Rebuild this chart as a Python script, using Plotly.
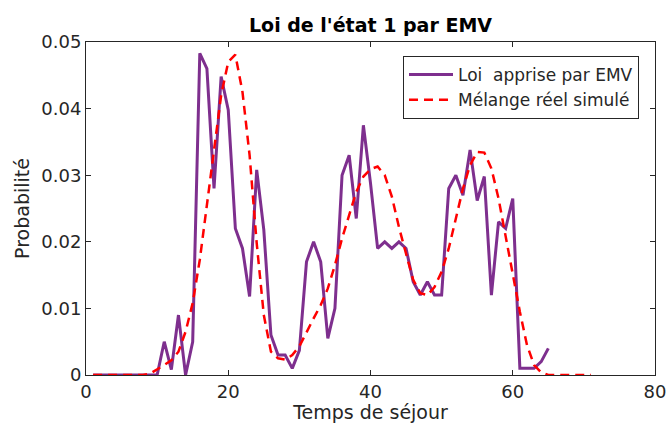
import plotly.graph_objects as go

# Data
x_emv = list(range(1, 66))
y_emv = [0, 0, 0, 0, 0, 0, 0, 0, 0, 0,          # 1-10
         0.005, 0.0008, 0.009, 0.0, 0.005,       # 11-15
         0.0483, 0.046, 0.028, 0.0448, 0.0398,   # 16-20
         0.022, 0.019, 0.0118, 0.0308, 0.0218,   # 21-25
         0.006, 0.003, 0.003, 0.001, 0.0037,     # 26-30
         0.017, 0.020, 0.017, 0.0055, 0.010,     # 31-35
         0.030, 0.033, 0.0235, 0.0375, 0.0288,   # 36-40
         0.019, 0.020, 0.019, 0.020, 0.019,      # 41-45
         0.014, 0.012, 0.014, 0.012, 0.012,      # 46-50
         0.028, 0.030, 0.027, 0.0338, 0.0262,    # 51-55
         0.0298, 0.012, 0.023, 0.022, 0.0265,    # 56-60
         0.001, 0.001, 0.001, 0.002, 0.004]      # 61-65

x_reel = list(range(1, 72))
y_reel = [0, 0, 0, 0, 0, 0, 0, 0, 0.0002, 0.0008,           # 1-10
          0.0015, 0.0022, 0.0035, 0.0065, 0.0108,            # 11-15
          0.0173, 0.0258, 0.034, 0.042, 0.047,               # 16-20
          0.0481, 0.0425, 0.033, 0.0198, 0.009,              # 21-25
          0.0035, 0.0025, 0.0023, 0.003, 0.0043,             # 26-30
          0.0065, 0.0085, 0.0105, 0.013, 0.0165,             # 31-35
          0.0205, 0.024, 0.0275, 0.0298, 0.0309,             # 36-40
          0.0313, 0.0300, 0.0268, 0.0222, 0.0182,            # 41-45
          0.0143, 0.0123, 0.012, 0.0132, 0.0155,             # 46-50
          0.019, 0.0235, 0.028, 0.0315, 0.0335,              # 51-55
          0.0334, 0.031, 0.0265, 0.0208, 0.015,              # 56-60
          0.0095, 0.0045, 0.0015, 0.0004, 0,                 # 61-65
          0, 0, 0, 0, 0, 0]                                  # 66-71

x_ticks = [0, 20, 40, 60, 80]
y_ticks = [0, 0.01, 0.02, 0.03, 0.04, 0.05]
y_ticktext = ["0", "0.01", "0.02", "0.03", "0.04", "0.05"]

axis_col = "#262626"
font_fam = "DejaVu Sans, sans-serif"

fig = go.Figure()
fig.add_trace(go.Scatter(x=x_emv, y=y_emv, mode="lines",
                         name="Loi\u00a0\u00a0apprise par EMV",
                         line=dict(color="#7E2F8E", width=3)))
fig.add_trace(go.Scatter(x=x_reel, y=y_reel, mode="lines",
                         name="Mélange réel simulé",
                         line=dict(color="#FF0000", width=2.5, dash="9px,6px")))

fig.update_layout(
    width=666, height=423,
    margin=dict(l=86, r=11, t=42, b=48, autoexpand=False),
    paper_bgcolor="white", plot_bgcolor="white",
    font=dict(family=font_fam, color=axis_col, size=18),
    title=dict(text="<b>Loi de l'état 1 par EMV</b>", x=370.5 / 666, xanchor="center",
               y=1 - 25.5 / 423, yanchor="middle", yref="container",
               font=dict(size=19, color="black", family=font_fam)),
    showlegend=True,
    legend=dict(x=(403 - 86) / 569, y=(375 - 56) / 333, xanchor="left", yanchor="top",
                bgcolor="white", bordercolor=axis_col, borderwidth=1,
                font=dict(size=17, color=axis_col, family=font_fam),
                tracegroupgap=0, itemwidth=44),
)

fig.update_xaxes(range=[0, 80], tickvals=x_ticks, ticks="inside", ticklen=5,
                 tickcolor=axis_col, showline=True, linecolor=axis_col, linewidth=1,
                 mirror="ticks", showgrid=False, zeroline=False, automargin=False,
                 ticklabeloverflow="allow",
                 tickfont=dict(size=18, color=axis_col),
                 title=dict(text="Temps de séjour", font=dict(size=19, color=axis_col), standoff=0))
fig.update_yaxes(range=[0, 0.05], tickvals=y_ticks, ticktext=y_ticktext, ticks="inside", ticklen=5,
                 tickcolor=axis_col, showline=True, linecolor=axis_col, linewidth=1,
                 mirror="ticks", showgrid=False, zeroline=False, automargin=False,
                 ticklabeloverflow="allow",
                 tickfont=dict(size=18, color=axis_col),
                 title=dict(text="Probabilité", font=dict(size=19, color=axis_col), standoff=6))

fig.write_html("out.html", config={"displayModeBar": False},
               post_script="document.body.style.margin='0';")
